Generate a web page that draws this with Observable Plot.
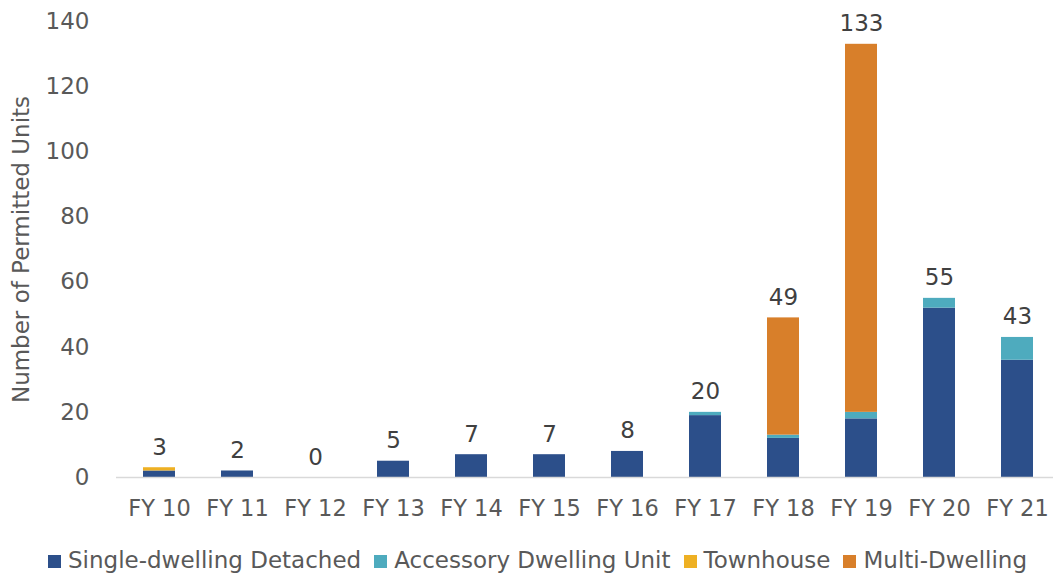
<!DOCTYPE html>
<html>
<head>
<meta charset="utf-8">
<script src="https://cdn.jsdelivr.net/npm/d3@7"></script>
<script src="https://cdn.jsdelivr.net/npm/@observablehq/plot@0.6"></script>
<style>
  html, body { margin: 0; padding: 0; background: #fff; }
  #chart { width: 1053px; }
  .legend { display: flex; justify-content: center; align-items: flex-end; height: 43px; font-family: "DejaVu Sans", sans-serif; font-size: 23px; color: #595959; white-space: nowrap; box-sizing: border-box; padding-top: 9px; padding-left: 22px; }
  .legend .item { display: flex; align-items: baseline; margin: 0 6.5px; }
  .legend .sw { display: inline-block; width: 13px; height: 13px; margin-right: 7px; }
</style>
</head>
<body>
<div id="chart"></div>
<script>
const years = ["FY 10","FY 11","FY 12","FY 13","FY 14","FY 15","FY 16","FY 17","FY 18","FY 19","FY 20","FY 21"];
const types = ["Single-dwelling Detached","Accessory Dwelling Unit","Townhouse","Multi-Dwelling"];
const colors = ["#2C4F8A","#4EABBE","#EEB023","#D87F2A"];
const singleDetached = [2,2,0,5,7,7,8,19,12,18,52,36];
const accessoryUnit  = [0,0,0,0,0,0,0,1,1,2,3,7];
const townhouse      = [1,0,0,0,0,0,0,0,0,0,0,0];
const multiDwelling  = [0,0,0,0,0,0,0,0,36,113,0,0];
const yTicks = [0,20,40,60,80,100,120,140];

const series = [singleDetached, accessoryUnit, townhouse, multiDwelling];
const rows = [];
years.forEach((yr, i) => types.forEach((t, j) => rows.push({year: yr, type: t, value: series[j][i]})));
const totals = years.map((yr, i) => d3.sum(series, s => s[i]));

const font = "DejaVu Sans, sans-serif";
const chart = Plot.plot({
  width: 1053,
  height: 530,
  marginLeft: 116,
  marginRight: 0,
  marginTop: 21,
  marginBottom: 53,
  style: {fontFamily: font, fontSize: "23px", color: "#595959", background: "#fff"},
  x: {type: "band", domain: years, range: [115, 1061], paddingInner: 0.595, paddingOuter: 0.2975, label: null},
  y: {domain: [0, 140], label: null},
  color: {domain: types, range: colors},
  marks: [
    Plot.axisY({ticks: yTicks, tickSize: 0, tickPadding: 27, label: null, fill: "#595959"}),
    Plot.axisX({tickSize: 0, tickPadding: 23, label: null, fill: "#595959", fontSize: 22.5}),
    Plot.barY(rows, {x: "year", y: "value", fill: "type", order: types}),
    Plot.ruleY([0], {stroke: "#d9d9d9", strokeWidth: 1.5}),
    Plot.text(years, {x: years, y: totals, text: totals, dy: -13, lineAnchor: "bottom", fill: "#404040", fontSize: 23}),
    Plot.text(["Number of Permitted Units"], {frameAnchor: "left", rotate: -90, dx: -104, dy: 0, lineAnchor: "top", textAnchor: "middle", fill: "#595959", fontSize: 23})
  ]
});
document.getElementById("chart").appendChild(chart);

const legend = document.createElement("div");
legend.className = "legend";
types.forEach((t, j) => {
  const item = document.createElement("span");
  item.className = "item";
  const sw = document.createElement("span");
  sw.className = "sw";
  sw.style.background = colors[j];
  item.appendChild(sw);
  item.appendChild(document.createTextNode(t));
  legend.appendChild(item);
});
document.getElementById("chart").appendChild(legend);
</script>
</body>
</html>
